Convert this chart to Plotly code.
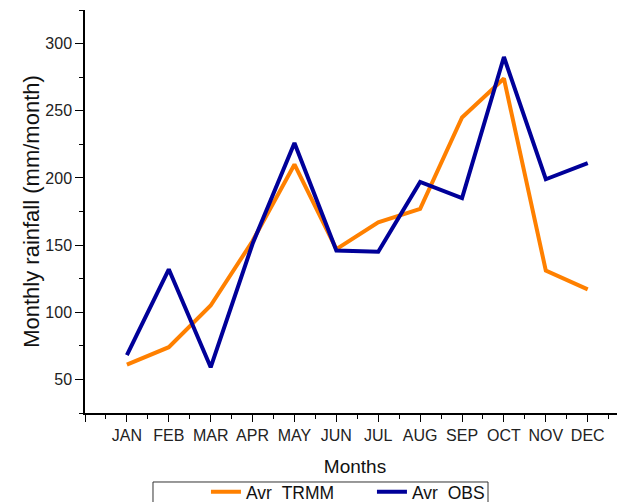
import plotly.graph_objects as go

months = ["JAN", "FEB", "MAR", "APR", "MAY", "JUN", "JUL", "AUG", "SEP", "OCT", "NOV", "DEC"]
avr_trmm = [61, 74, 105, 153, 210, 147, 167, 177, 245, 274, 131, 117]
avr_obs = [68, 132, 59, 151, 226, 146, 145, 197, 185, 290, 199, 211]
month_pos = list(range(1, 13))

font = "Arial, 'Liberation Sans', sans-serif"

fig = go.Figure()
fig.add_trace(go.Scatter(x=month_pos, y=avr_trmm, mode="lines", name="Avr_TRMM",
                         line=dict(color="#FF8000", width=4)))
fig.add_trace(go.Scatter(x=month_pos, y=avr_obs, mode="lines", name="Avr_OBS",
                         line=dict(color="#000099", width=4)))

# page body has an 8px default margin; plot area is placed to sit at
# x 85..625 and y 10..413 in the browser window
fig.update_layout(
    width=625, height=502,
    margin=dict(l=77, r=8, t=2, b=97, autoexpand=False),
    plot_bgcolor="white", paper_bgcolor="white",
    font=dict(family=font, color="#222222", size=16),
    showlegend=True,
    legend=dict(orientation="h", x=0.224, xanchor="left", y=-0.151, yanchor="top",
                borderwidth=0, bgcolor="rgba(0,0,0,0)",
                font=dict(size=17.5, family=font, color="#111111"),
                itemwidth=30, tracegroupgap=0, entrywidth=121, entrywidthmode="pixels"),
    shapes=[dict(type="rect", xref="paper", yref="paper",
                 x0=0.1259, x1=0.7463, y0=-0.1712, y1=-0.26,
                 line=dict(color="#333333", width=1), fillcolor="rgba(0,0,0,0)", layer="below")],
    xaxis=dict(
        range=[0, 12.89], showgrid=False, zeroline=False, automargin=False,
        showline=True, linecolor="black", linewidth=1.5,
        tickmode="array", tickvals=list(range(0, 13)), ticktext=[""] + months,
        ticks="outside", ticklen=7, tickwidth=1.2, tickcolor="black",
        minor=dict(dtick=0.5, tick0=0, ticks="outside", ticklen=4, tickwidth=1.2, tickcolor="black", showgrid=False),
        tickfont=dict(size=16, family=font, color="#222222"),
        title=dict(text="Months", font=dict(size=19, family=font, color="#111111"), standoff=17),
    ),
    yaxis=dict(
        range=[25, 325], showgrid=False, zeroline=False, automargin=False,
        showline=True, linecolor="black", linewidth=1.5,
        tickmode="array", tickvals=[50, 100, 150, 200, 250, 300],
        ticks="outside", ticklen=8, tickwidth=1.2, tickcolor="black",
        minor=dict(dtick=25, tick0=25, ticks="outside", ticklen=4, tickwidth=1.2, tickcolor="black", showgrid=False),
        tickfont=dict(size=16, family=font, color="#222222"),
        title=dict(text="Monthly rainfall (mm/month)", font=dict(size=22, family=font, color="#111111"), standoff=0),
    ),
)

fig.write_html("out.html")
